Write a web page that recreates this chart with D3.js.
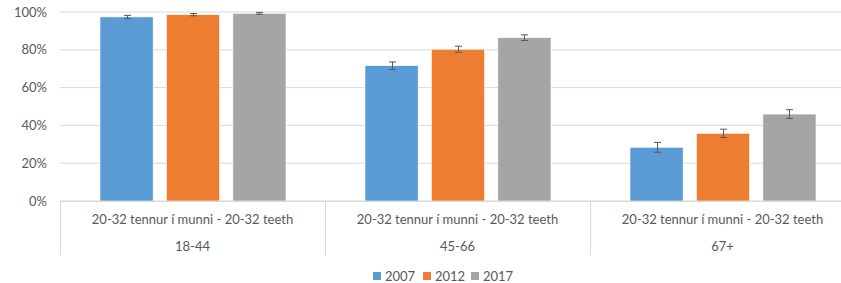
<!DOCTYPE html>
<html>
<head>
<meta charset="utf-8">
<script src="https://cdn.jsdelivr.net/npm/d3@7"></script>
<style>
  body { margin: 0; background: #fff; }
  text { font-family: Lato, "Open Sans", sans-serif; fill: #595959; }
</style>
</head>
<body>
<div id="chart"></div>
<script>
const ageGroups = ['18-44', '45-66', '67+'];
const categoryLabel = '20-32 tennur í munni - 20-32 teeth';
const years = ['2007', '2012', '2017'];
const values = {
  '2007': [97.4, 71.6, 28.4],
  '2012': [98.6, 80.3, 35.8],
  '2017': [99.3, 86.4, 46.0]
};
const errors = {
  '2007': [0.8, 2.0, 2.6],
  '2012': [0.6, 1.6, 2.2],
  '2017': [0.5, 1.5, 2.3]
};
const yTicks = [0, 20, 40, 60, 80, 100];
const colors = { '2007': '#5B9BD5', '2012': '#ED7D31', '2017': '#A5A5A5' };

const width = 841, height = 283;
const plotLeft = 60, plotRight = 855, plotTop = 12, plotBottom = 201;
const fs = 13;

const svg = d3.select('#chart').append('svg')
  .attr('width', width).attr('height', height);

const x0 = d3.scaleBand().domain(ageGroups).range([plotLeft, plotRight]);
const x1 = d3.scaleBand().domain(years).range([40, 226]).paddingInner(0.2);
const y = d3.scaleLinear().domain([0, 100]).range([plotBottom, plotTop]);

// gridlines
svg.append('g').selectAll('line').data(yTicks).enter().append('line')
  .attr('x1', plotLeft).attr('x2', width)
  .attr('y1', d => y(d)).attr('y2', d => y(d))
  .attr('stroke', '#d9d9d9').attr('stroke-width', 1);

// y labels
svg.append('g').selectAll('text').data(yTicks).enter().append('text')
  .attr('x', 47).attr('y', d => y(d)).attr('dy', '0.35em')
  .attr('text-anchor', 'end').attr('font-size', fs)
  .text(d => d + '%');

// bars
const rows = [];
ageGroups.forEach((g, i) => years.forEach(yr => rows.push({ g, yr, v: values[yr][i], e: errors[yr][i] })));

svg.append('g').selectAll('rect').data(rows).enter().append('rect')
  .attr('x', d => x0(d.g) + x1(d.yr))
  .attr('y', d => y(d.v))
  .attr('width', x1.bandwidth())
  .attr('height', d => y(0) - y(d.v))
  .attr('fill', d => colors[d.yr])
  .attr('stroke', '#fff').attr('stroke-width', 0.6);

// error bars
const eb = svg.append('g').attr('stroke', '#595959').attr('stroke-width', 1);
rows.forEach(d => {
  const cx = Math.round(x0(d.g) + x1(d.yr) + x1.bandwidth() / 2) + 0.5;
  eb.append('line').attr('x1', cx).attr('x2', cx).attr('y1', y(d.v + d.e)).attr('y2', y(d.v - d.e));
  [d.v + d.e, d.v - d.e].forEach(v => {
    eb.append('line').attr('x1', cx - 3.5).attr('x2', cx + 3.5).attr('y1', y(v)).attr('y2', y(v));
  });
});

// x axis baseline and separators
svg.append('line').attr('x1', plotLeft).attr('x2', width).attr('y1', y(0) + 0.5).attr('y2', y(0) + 0.5)
  .attr('stroke', '#d9d9d9');
svg.append('g').selectAll('line').data(ageGroups.concat(['end'])).enter().append('line')
  .attr('x1', (d, i) => plotLeft + i * x0.bandwidth() + 0.5)
  .attr('x2', (d, i) => plotLeft + i * x0.bandwidth() + 0.5)
  .attr('y1', y(0)).attr('y2', 255)
  .attr('stroke', '#d9d9d9');

const xl = svg.append('g');
ageGroups.forEach(g => {
  const cx = x0(g) + x0.bandwidth() / 2;
  xl.append('text').attr('x', cx).attr('y', 224).attr('text-anchor', 'middle')
    .attr('font-size', fs).text(categoryLabel);
  xl.append('text').attr('x', cx).attr('y', 251).attr('text-anchor', 'middle')
    .attr('font-size', fs).text(g);
});

// legend
const lg = svg.append('g');
years.forEach((yr, i) => {
  const lx = [373, 423, 471][i];
  lg.append('rect').attr('x', lx).attr('y', 272).attr('width', 8).attr('height', 8).attr('fill', colors[yr]);
  lg.append('text').attr('x', lx + 12).attr('y', 276).attr('dy', '0.35em')
    .attr('font-size', fs).text(yr);
});
</script>
</body>
</html>
